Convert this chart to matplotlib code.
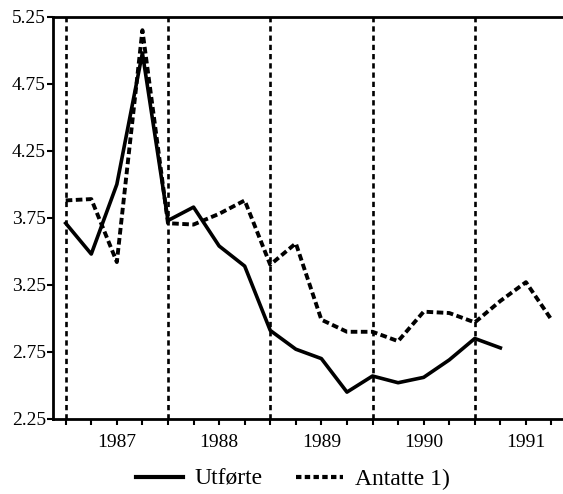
import numpy as np
import matplotlib.pyplot as plt
from matplotlib.lines import Line2D

plt.rcParams['font.family'] = ['Liberation Serif', 'DejaVu Serif']

# quarterly values, 1987-1991
utforte = [3.71, 3.48, 4.00, 4.98, 3.73, 3.83, 3.54, 3.39, 2.91, 2.77,
           2.70, 2.45, 2.57, 2.52, 2.56, 2.69, 2.85, 2.78]
antatte = [3.88, 3.89, 3.42, 5.15, 3.71, 3.70, 3.78, 3.88, 3.40, 3.56,
           2.99, 2.90, 2.90, 2.83, 3.05, 3.04, 2.97, 3.13, 3.27, 2.99]
years = ["1987", "1988", "1989", "1990", "1991"]
year_breaks = [0, 4, 8, 12, 16]
yticks = [2.25, 2.75, 3.25, 3.75, 4.25, 4.75, 5.25]

fig = plt.figure(figsize=(5.63, 4.94), dpi=100)
ax = fig.add_axes([0.094, 0.152, 0.906, 0.814])

dots = (0, (1.7, 0.9))

for xb in year_breaks:
    ax.axvline(xb, color="black", lw=1.9, ls=(0, (2.0, 1.5)))

ax.plot(range(len(utforte)), utforte, color="black", lw=2.6)
ax.plot(range(len(antatte)), antatte, color="black", lw=2.8, ls=dots)

ax.set_xlim(-0.5, 19.45)
ax.set_ylim(2.25, 5.25)
ax.set_yticks(yticks)
ax.set_yticklabels([f"{v:.2f}" for v in yticks], fontsize=14)

labels = [""] * 20
for i, y in enumerate(years):
    labels[2 + 4 * i] = y
ax.set_xticks(range(20))
ax.set_xticklabels(labels, fontsize=14)

ax.spines["right"].set_visible(False)
for s in ["left", "bottom", "top"]:
    ax.spines[s].set_linewidth(2)
ax.tick_params(axis="both", direction="out", length=4, width=1.5)
ax.tick_params(axis="x", pad=7)
ax.tick_params(axis="y", pad=1)

handles = [Line2D([], [], color="black", lw=3),
           Line2D([], [], color="black", lw=3, ls=(0, (1.3, 0.8)))]
fig.legend(handles, ["Utførte", "Antatte 1)"], loc="center",
           bbox_to_anchor=(0.52, 0.03), ncol=2, frameon=False, fontsize=17,
           handlelength=2.0, columnspacing=1.4, handletextpad=0.5)

fig.savefig("out.png", dpi=100)
